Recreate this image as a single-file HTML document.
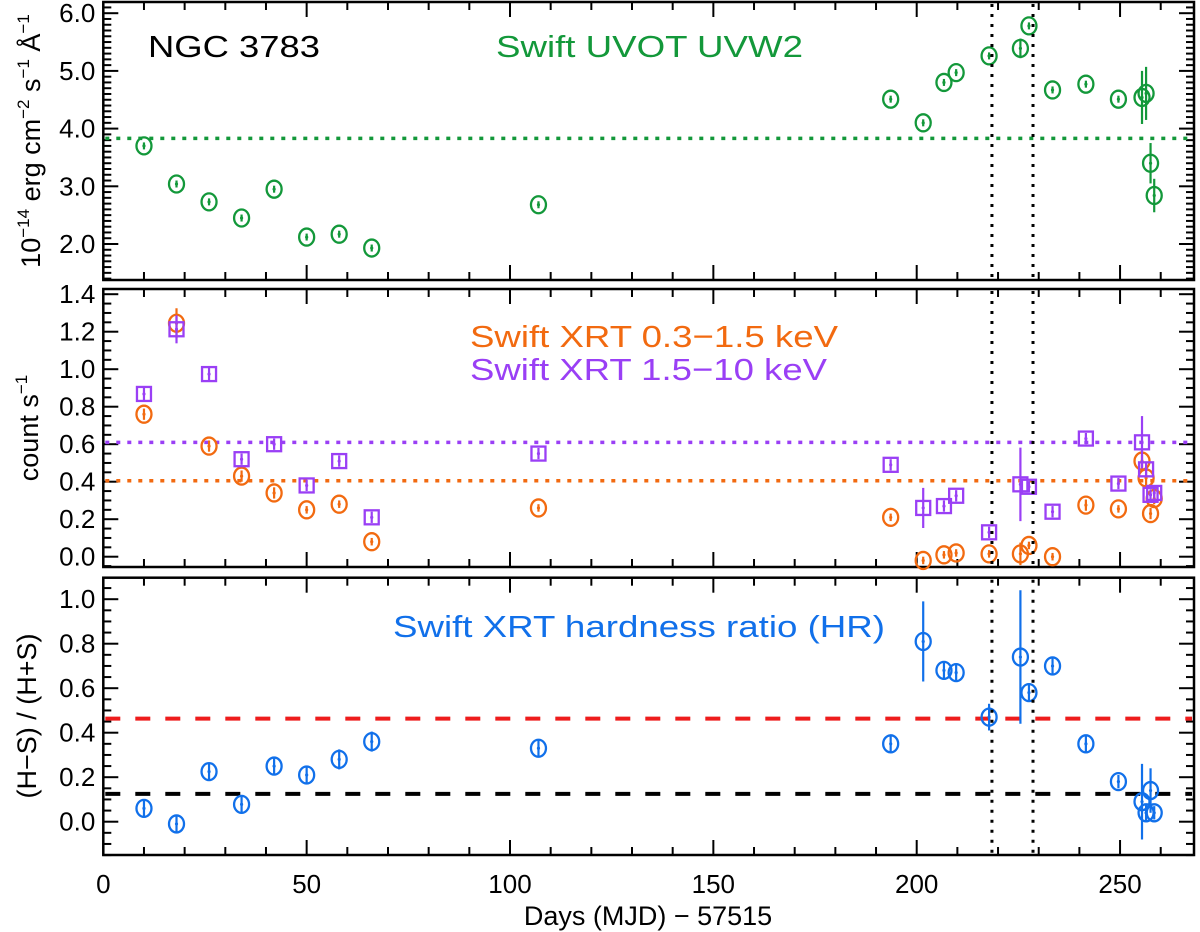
<!DOCTYPE html>
<html><head><meta charset="utf-8"><style>
html,body{margin:0;padding:0;background:#fff;}
svg{display:block;font-family:"Liberation Sans",Arial,sans-serif;}
</style></head><body>
<svg id="chart" width="1200" height="932" viewBox="0 0 1200 932"></svg>
<script>
const days   = [10,18,26,34,42,50,58,66,107,193.6,201.6,206.7,209.7,217.8,225.5,227.6,233.4,241.6,249.6,255.4,256.4,257.5,258.4];
const uvw2   = [3.70,3.04,2.73,2.45,2.95,2.12,2.17,1.93,2.68,4.51,4.10,4.80,4.97,5.26,5.39,5.78,4.67,4.77,4.51,4.54,4.61,3.40,2.84];
const uvw2Err= [0.03,0.03,0.03,0.03,0.03,0.03,0.03,0.03,0.03,0.03,0.03,0.04,0.05,0.05,0.17,0.06,0.03,0.04,0.04,0.46,0.46,0.35,0.29];
const soft   = [0.76,1.245,0.59,0.43,0.34,0.25,0.28,0.08,0.26,0.21,-0.02,0.01,0.02,0.015,0.015,0.06,0.0,0.275,0.255,0.51,0.42,0.23,0.31];
const softErr= [0.03,0.08,0.03,0.03,0.03,0.02,0.02,0.02,0.02,0.02,0.02,0.02,0.02,0.02,0.06,0.02,0.02,0.03,0.02,0.04,0.04,0.03,0.03];
const hard   = [0.868,1.213,0.974,0.52,0.60,0.38,0.51,0.21,0.55,0.49,0.26,0.27,0.325,0.13,0.386,0.373,0.24,0.63,0.39,0.61,0.466,0.33,0.34];
const hardErr= [0.04,0.075,0.04,0.03,0.03,0.03,0.03,0.03,0.03,0.03,0.107,0.03,0.03,0.03,0.196,0.03,0.03,0.03,0.03,0.14,0.04,0.03,0.03];
const hr     = [0.06,-0.01,0.225,0.078,0.25,0.21,0.28,0.36,0.33,0.35,0.81,0.68,0.67,0.47,0.74,0.58,0.70,0.35,0.18,0.09,0.04,0.14,0.04];
const hrErr  = [0.04,0.04,0.04,0.04,0.04,0.04,0.045,0.045,0.04,0.04,0.18,0.04,0.04,0.06,0.30,0.04,0.04,0.04,0.03,0.17,0.04,0.10,0.03];
const uvMean = 3.83, softMean = 0.405, hardMean = 0.61, hrRed = 0.463, hrBlack = 0.125;
const vLines = [218.5, 228.6];
const xTicks = [0,50,100,150,200,250];
const uvTicks = [2.0,3.0,4.0,5.0,6.0];
const ctTicks = [0.0,0.2,0.4,0.6,0.8,1.0,1.2,1.4];
const hrTicks = [0.0,0.2,0.4,0.6,0.8,1.0];

const NS='http://www.w3.org/2000/svg';
const svg=document.getElementById('chart');
function el(tag,attrs,parent){const e=document.createElementNS(NS,tag);for(const k in attrs)e.setAttribute(k,attrs[k]);(parent||svg).appendChild(e);return e;}
const XL=103.3, XR=1194, XMAX=(XR-XL)/4.067;
const X=d=>XL+d*4.067;
const P1={top:2,bot:280,y:v=>244-(v-2)*57.7,min:1.376,max:6.19,minor:0.1};
const P2={top:289,bot:567,y:v=>556.7-v*187.5,min:-0.055,max:1.436,minor:0.05};
const P3={top:577.7,bot:855,y:v=>821.7-v*222.5,min:-0.15,max:1.095,minor:0.05};
const GREEN='#13983a', ORANGE='#f26a10', PURPLE='#9a3ff5', BLUE='#1170ea';

function frame(P,name,ticks,fmt,showX){
  const g=el('g',{});
  
  
  el('rect',{x:XL,y:P.top,width:XR-XL,height:P.bot-P.top,fill:'none',stroke:'#000','stroke-width':2.5},g);
  for(let d=0;d<=XMAX;d+=10){
    const major=d%50===0, L=major?15:8, x=X(d);
    el('line',{x1:x,x2:x,y1:P.bot,y2:P.bot-L,stroke:'#000','stroke-width':2},g);
    el('line',{x1:x,x2:x,y1:P.top,y2:P.top+L,stroke:'#000','stroke-width':2},g);
  }
  const n0=Math.ceil(P.min/P.minor-1e-6), n1=Math.floor(P.max/P.minor+1e-6);
  const majorStep=ticks[1]-ticks[0];
  for(let i=n0;i<=n1;i++){
    const v=i*P.minor, y=P.y(v);
    const major=Math.abs(v/majorStep-Math.round(v/majorStep))<1e-6;
    const L=major?15:8;
    el('line',{x1:XL,x2:XL+L,y1:y,y2:y,stroke:'#000','stroke-width':2},g);
    el('line',{x1:XR,x2:XR-L,y1:y,y2:y,stroke:'#000','stroke-width':2},g);
  }
  ticks.forEach(v=>{
    const t=el('text',{x:XL-8,y:P.y(v)+9,'text-anchor':'end','font-size':26,fill:'#000'},g);
    
    
    t.textContent=v.toFixed(1);
  });
  if(showX){
    xTicks.forEach(d=>{
      const t=el('text',{x:X(d),y:P.bot+38,'text-anchor':'middle','font-size':26,fill:'#000'},g);
      
      
      t.textContent=d;
    });
  }
  return g;
}
function hline(P,v,color,dash,w,name){
  const l=el('line',{x1:XL+2,x2:XR-2,y1:P.y(v),y2:P.y(v),stroke:color,'stroke-width':w,'stroke-dasharray':dash});
  
  
}
function series(P,vals,errs,color,shape,name,r){
  const g=el('g',{});
  
  
  vals.forEach((v,i)=>{
    const x=X(days[i]), y=P.y(v), e=Math.max(errs[i]*(P.y(0)-P.y(1)),3.5);
    const m=el('g',{},g);
    
    
    el('line',{x1:x,x2:x,y1:y-e,y2:y+e,stroke:color,'stroke-width':2.2},m);
    if(shape==='sq') el('rect',{x:x-r,y:y-r,width:2*r,height:2*r,fill:'none',stroke:color,'stroke-width':2.3},m);
    else el('ellipse',{cx:x,cy:y,rx:r,ry:r+1,fill:'none',stroke:color,'stroke-width':2.3},m);
    el('circle',{cx:x,cy:y,r:1.6,fill:color},m);
  });
}
function label(x,y,txt,color,size,name,len){
  const t=el('text',{x:x,y:y,'font-size':size,fill:color});
  if(len){t.setAttribute('textLength',len);t.setAttribute('lengthAdjust','spacingAndGlyphs');}
  
  
  t.textContent=txt;
  return t;
}

frame(P1,'uvw2-panel',uvTicks,1,false);
hline(P1,uvMean,GREEN,'4 7',3.5,'uvw2-mean-line');
series(P1,uvw2,uvw2Err,GREEN,'c','uvw2-series',7.5);
label(148,57,'NGC 3783','#000',31,'object-title',172);
label(496,57,'Swift UVOT UVW2',GREEN,31,'uvw2-legend',307);

frame(P2,'count-rate-panel',ctTicks,1,false);
hline(P2,hardMean,PURPLE,'4 7',3.5,'hard-mean-line');
hline(P2,softMean,ORANGE,'4 7',3.5,'soft-mean-line');
series(P2,soft,softErr,ORANGE,'c','soft-series',7.5);
series(P2,hard,hardErr,PURPLE,'sq','hard-series',7);
label(470,347,'Swift XRT 0.3\u22121.5 keV',ORANGE,31,'soft-legend',368);
label(470,380,'Swift XRT 1.5\u221210 keV',PURPLE,31,'hard-legend',357);

frame(P3,'hardness-panel',hrTicks,1,true);
hline(P3,hrRed,'#ee1c1c','15 15',4,'hr-red-dashed-line');
hline(P3,hrBlack,'#000','15 15',4,'hr-black-dashed-line');
series(P3,hr,hrErr,BLUE,'c','hr-series',7.5);
label(393,637,'Swift XRT hardness ratio (HR)',BLUE,31,'hr-legend',492);

vLines.forEach(d=>{
  [P1,P2,P3].forEach(P=>{
    const l=el('line',{x1:X(d),x2:X(d),y1:P.top+2,y2:P.bot-2,stroke:'#000','stroke-width':3,'stroke-dasharray':'3 7'});
    
    
  });
});

const xt=label(648,925,'Days (MJD) \u2212 57515','#000',27,'x-axis-title');
xt.setAttribute('text-anchor','middle');
const yt1=el('text',{transform:'translate(40,141) rotate(-90)','text-anchor':'middle','font-size':27,fill:'#000'});


yt1.innerHTML='10<tspan dy="-11" font-size="17">\u221214</tspan><tspan dy="11"> erg cm</tspan><tspan dy="-11" font-size="17">\u22122</tspan><tspan dy="11"> s</tspan><tspan dy="-11" font-size="17">\u22121</tspan><tspan dy="11"> \u00C5</tspan><tspan dy="-11" font-size="17">\u22121</tspan>';
const yt2=el('text',{transform:'translate(38,428) rotate(-90)','text-anchor':'middle','font-size':27,fill:'#000'});


yt2.innerHTML='count s<tspan dy="-11" font-size="17">\u22121</tspan>';
const yt3=el('text',{transform:'translate(36,716) rotate(-90)','text-anchor':'middle','font-size':27,fill:'#000'});


yt3.textContent='(H\u2212S) / (H+S)';
</script>
</body></html>
